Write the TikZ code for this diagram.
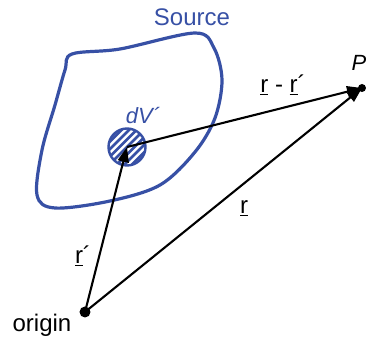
\documentclass[tikz,border=0pt]{standalone}
\usepackage{fontspec}
\setmainfont{Liberation Sans}
\usetikzlibrary{arrows.meta,calc}
\definecolor{srcblue}{RGB}{55,80,165}
\tikzset{
  vec/.style={line width=2.1pt,-{Triangle[length=15pt,width=11pt]}},
  lbl/.style={font=\fontsize{24}{28}\selectfont,inner sep=0pt},
  dot/.style={circle,fill=black,inner sep=0pt,minimum size=11pt}
}
\begin{document}
\begin{tikzpicture}[x=1pt,y=-1pt]
\useasboundingbox (0,0) rectangle (368,345);
% source blob
\draw[srcblue,line width=3.2pt] plot[smooth cycle,tension=0.55] coordinates{
 (72,54) (120,49) (195,33) (214,48) (222,80) (215,118) (195,152) (160,185)
 (110,201) (55,208) (37,195) (42,150) (55,105) (65,70)};
\node[lbl,text=srcblue] (src) at (192,17) {Source};
% volume element
\coordinate (dV) at (127,147);
\begin{scope}
\clip (dV) circle (18.5);
\foreach \k in {-5,...,5} {
  \draw[srcblue,line width=2.6pt] ($(dV)+(\k*7.5,0)+(-30,30)$) -- ($(dV)+(\k*7.5,0)+(30,-30)$);
}
\end{scope}
\draw[srcblue,line width=2.4pt] (dV) circle (18.5);
\node[lbl,text=srcblue,font=\fontsize{22}{26}\selectfont\itshape] (dVl) at (143,116) {dV´};
% points
\node[dot] (O) at (85,312) {};
\node[dot,minimum size=8pt] (P) at (362,88) {};
\node[lbl] (origlbl) at (42,325) {origin};
\node[lbl,font=\fontsize{22}{26}\selectfont\itshape] (Pl) at (359,63) {P};
% vectors
\draw[vec] (O.center) -- (dV);
\draw[vec] (dV) -- (P.center);
\draw[vec] (O.center) -- (P.center);
% labels
\node[lbl] (rr) at (283,85) {\underline{r} - \underline{r}´};
\node[lbl] (r) at (244,208) {\underline{r}};
\node[lbl] (rp) at (83,256) {\underline{r}´};
\end{tikzpicture}
\end{document}
